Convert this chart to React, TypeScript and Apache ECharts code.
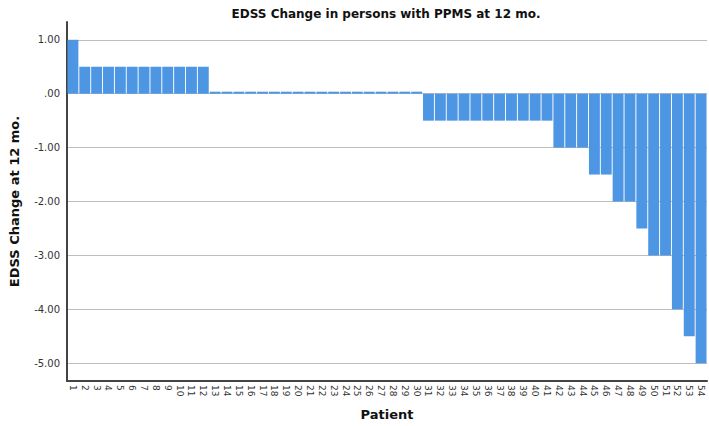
import React, { useEffect, useRef } from "react";
import * as echarts from "echarts";

const patients: string[] = Array.from({ length: 54 }, (_, i) => String(i + 1));
const edssChange: number[] = [
  1.0,
  0.5, 0.5, 0.5, 0.5, 0.5, 0.5, 0.5, 0.5, 0.5, 0.5, 0.5,
  0, 0, 0, 0, 0, 0, 0, 0, 0, 0, 0, 0, 0, 0, 0, 0, 0, 0,
  -0.5, -0.5, -0.5, -0.5, -0.5, -0.5, -0.5, -0.5, -0.5, -0.5, -0.5,
  -1.0, -1.0, -1.0,
  -1.5, -1.5,
  -2.0, -2.0,
  -2.5,
  -3.0, -3.0,
  -4.0,
  -4.5,
  -5.0,
];
const yTicks: number[] = [1, 0, -1, -2, -3, -4, -5];

const fmt = (v: number) => {
  const s = Math.abs(v).toFixed(2).replace(/^0/, "");
  return (v < 0 ? "-" : "") + s;
};

export default function App() {
  const ref = useRef<HTMLDivElement>(null);
  useEffect(() => {
    if (!ref.current) return;
    const chart = echarts.init(ref.current, null, { renderer: "svg" });
    chart.setOption({
      animation: false,
      backgroundColor: "#ffffff",
      title: {
        text: "EDSS Change in persons with PPMS at 12 mo.",
        left: 381,
        textAlign: "center",
        top: 3,
        textStyle: {
          fontFamily: "DejaVu Sans",
          fontSize: 12,
          fontWeight: "bold",
          color: "#111",
        },
      },
      grid: { left: 56, right: 2, top: 22, bottom: 41, containLabel: false },
      xAxis: {
        type: "category",
        data: patients,
        name: "Patient",
        nameLocation: "middle",
        nameGap: 27,
        nameTextStyle: {
          fontFamily: "DejaVu Sans",
          fontSize: 13,
          fontWeight: "bold",
          color: "#111",
        },
        axisLine: { show: true, onZero: false, lineStyle: { color: "#444", width: 2 } },
        axisTick: { show: false },
        axisLabel: {
          rotate: -90,
          interval: 0,
          fontFamily: "DejaVu Sans",
          fontSize: 9,
          color: "#333",
          margin: 4,
        },
      },
      yAxis: {
        type: "value",
        min: -5.33,
        max: 1.33,
        name: "EDSS Change at 12 mo.",
        nameLocation: "middle",
        nameGap: 46,
        nameTextStyle: {
          fontFamily: "DejaVu Sans",
          fontSize: 13,
          fontWeight: "bold",
          color: "#111",
        },
        axisLine: { show: true, lineStyle: { color: "#444", width: 2 } },
        axisTick: { show: false, customValues: yTicks },
        axisLabel: {
          customValues: yTicks,
          formatter: (v: number) => fmt(v),
          fontFamily: "DejaVu Sans",
          fontSize: 10,
          color: "#333",
          margin: 7,
        },
        splitLine: { show: true, lineStyle: { color: "#bdbdbd", width: 1 } },
      },
      series: [
        {
          type: "bar",
          data: edssChange,
          barCategoryGap: "8%",
          barMinHeight: 2,
          itemStyle: { color: "#4d96e3" },
        },
      ],
    });
    return () => chart.dispose();
  }, []);
  return (
    <div
      ref={ref}
      style={{ position: "absolute", left: 0, top: 0, width: 709, height: 426 }}
    />
  );
}
